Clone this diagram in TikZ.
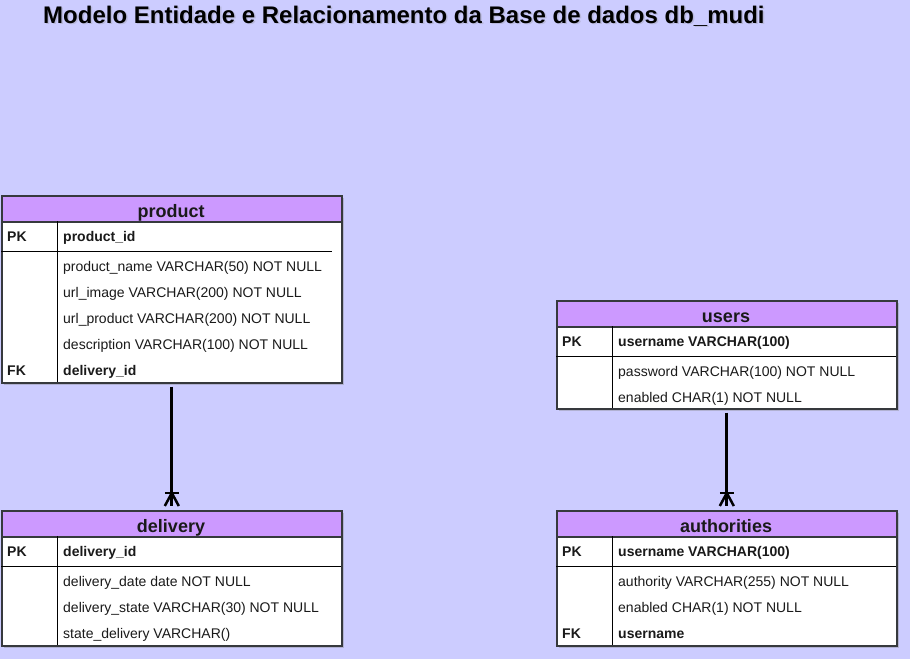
\documentclass[tikz,border=0pt]{standalone}
\usepackage{fontspec}
\setmainfont{Liberation Sans}
\usetikzlibrary{calc,shadows}
\definecolor{ERBack}{HTML}{CCCCFF}
\definecolor{ERHead}{HTML}{CC99FF}
\definecolor{ERLine}{HTML}{36393D}
\definecolor{ERText}{HTML}{1A1A1A}

\begin{document}
\begin{tikzpicture}[x=1pt,y=-1pt,
  tbl/.style={draw=ERLine,line width=1.6pt,fill=white,anchor=north west,minimum width=340pt,inner sep=0pt,
    drop shadow={shadow xshift=2.5pt,shadow yshift=-2.5pt,opacity=0.35}},
  hdr/.style={draw=ERLine,line width=1.6pt,fill=ERHead,anchor=north west,minimum width=340pt,minimum height=26pt,inner sep=0pt},
  ttl/.style={anchor=base,font=\fontsize{18}{20}\selectfont\bfseries,text=ERText,inner sep=0pt},
  key/.style={anchor=base west,font=\fontsize{14}{16}\selectfont\bfseries,text=ERText,inner sep=0pt},
  fld/.style={anchor=base west,font=\fontsize{14}{16}\selectfont,text=ERText,inner sep=0pt},
  sep/.style={draw=black,line width=0.8pt},
  rel/.style={line width=3pt,black},
  foot/.style={line width=2.5pt,black},
]
\fill[ERBack] (0,0) rectangle (910,659);
\useasboundingbox (0,0) rectangle (910,659);

% title
\node[anchor=base west,font=\fontsize{24}{28}\selectfont\bfseries,text=black!45,opacity=0.3,inner sep=0pt] (title-shadow) at (44.5,24.5) {Modelo Entidade e Relacionamento da Base de dados db\_mudi};
\node[anchor=base west,font=\fontsize{24}{28}\selectfont\bfseries,inner sep=0pt] (title) at (43,23) {Modelo Entidade e Relacionamento da Base de dados db\_mudi};

% product
\node[tbl,minimum height=187pt] (product) at (1,195) {};
\node[hdr] (product-hdr) at (1,195) {};
\node[ttl] (product-ttl) at (171,217) {product};
\draw[sep] (57,221) -- (57,382);
\draw[sep] (1,251) -- (332,251);
\node[key] (product-pk) at (7,241) {PK};
\node[key] (product-id) at (63,241) {product\_id};
\foreach \txt [count=\i] in {product\_name VARCHAR(50) NOT NULL,url\_image VARCHAR(200) NOT NULL,url\_product VARCHAR(200) NOT NULL,description VARCHAR(100) NOT NULL}
  \node[fld] (product-f\i) at (63,{245+26*\i}) {\txt};
\node[key] (product-fk) at (7,375) {FK};
\node[key] (product-dl) at (63,375) {delivery\_id};

% users
\node[tbl,minimum height=108pt] (users) at (556,300) {};
\node[hdr] (users-hdr) at (556,300) {};
\node[ttl] (users-ttl) at (726,322) {users};
\draw[sep] (612,326) -- (612,408);
\draw[sep] (556,356) -- (896,356);
\node[key] (users-pk) at (562,346) {PK};
\node[key] (users-id) at (618,346) {username VARCHAR(100)};
\foreach \txt [count=\i] in {password VARCHAR(100) NOT NULL,enabled CHAR(1) NOT NULL}
  \node[fld] (users-f\i) at (618,{350+26*\i}) {\txt};

% delivery
\node[tbl,minimum height=135pt] (delivery) at (1,510) {};
\node[hdr] (delivery-hdr) at (1,510) {};
\node[ttl] (delivery-ttl) at (171,532) {delivery};
\draw[sep] (57,536) -- (57,645);
\draw[sep] (1,566) -- (341,566);
\node[key] (delivery-pk) at (7,556) {PK};
\node[key] (delivery-id) at (63,556) {delivery\_id};
\foreach \txt [count=\i] in {delivery\_date date NOT NULL,delivery\_state VARCHAR(30) NOT NULL,state\_delivery VARCHAR()}
  \node[fld] (delivery-f\i) at (63,{560+26*\i}) {\txt};

% authorities
\node[tbl,minimum height=135pt] (authorities) at (556,510) {};
\node[hdr] (authorities-hdr) at (556,510) {};
\node[ttl] (authorities-ttl) at (726,532) {authorities};
\draw[sep] (612,536) -- (612,645);
\draw[sep] (556,566) -- (896,566);
\node[key] (authorities-pk) at (562,556) {PK};
\node[key] (authorities-id) at (618,556) {username VARCHAR(100)};
\foreach \txt [count=\i] in {authority VARCHAR(255) NOT NULL,enabled CHAR(1) NOT NULL}
  \node[fld] (authorities-f\i) at (618,{560+26*\i}) {\txt};
\node[key] (authorities-fk) at (562,638) {FK};
\node[key] (authorities-un) at (618,638) {username};

% relations, one to many
\draw[rel,shorten <=3pt,shorten >=4pt] (product) -- (delivery);
\draw[foot] ($(delivery.north)+(-7,-4)$) -- ($(delivery.north)+(0,-17)$) -- ($(delivery.north)+(7,-4)$);
\draw[foot] ($(delivery.north)+(-7,-17)$) -- ($(delivery.north)+(7,-17)$);
\draw[rel,shorten <=3pt,shorten >=4pt] (users) -- (authorities);
\draw[foot] ($(authorities.north)+(-7,-4)$) -- ($(authorities.north)+(0,-17)$) -- ($(authorities.north)+(7,-4)$);
\draw[foot] ($(authorities.north)+(-7,-17)$) -- ($(authorities.north)+(7,-17)$);
\end{tikzpicture}
\end{document}
